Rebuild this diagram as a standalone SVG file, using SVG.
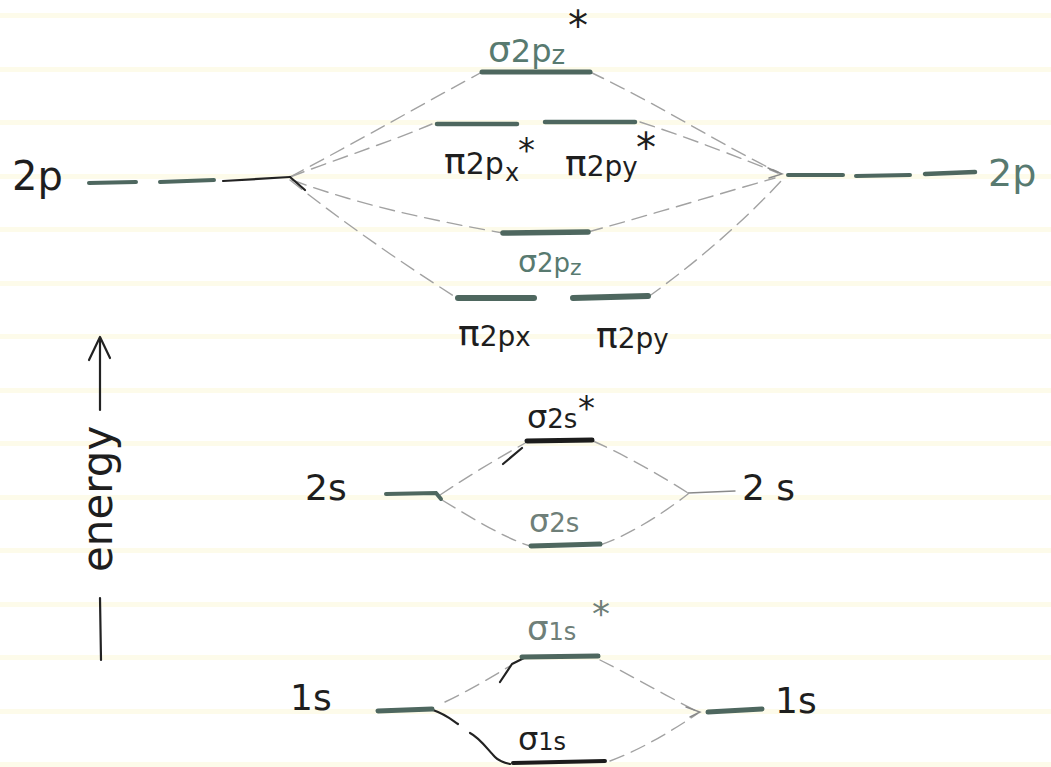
<svg xmlns="http://www.w3.org/2000/svg" width="1051" height="767" viewBox="0 0 1051 767">
  <defs>
    <style>
      .t { font-family: "DejaVu Sans", "Liberation Sans", sans-serif; }
      .ink { fill: #1e1e1e; }
      .grn { fill: #587a70; }
      .gry { fill: #6f7f79; }
      .bar { stroke: #4e675f; stroke-linecap: round; fill: none; }
      .barK { stroke: #1c1c1c; stroke-linecap: round; fill: none; }
      .dash { stroke: #a2a2a2; stroke-width: 1.4; fill: none; stroke-dasharray: 15 8; stroke-linecap: round; }
      .solidG { stroke: #8a8a8a; stroke-width: 1.4; fill: none; stroke-linecap: round; }
      .pen { stroke: #222; stroke-width: 2.2; fill: none; stroke-linecap: round; stroke-linejoin: round; }
      .rule { fill: #fdfbea; }
    </style>
  </defs>

  <rect width="1051" height="767" fill="#ffffff"/>

  <!-- ruled paper -->
  <g id="paper-lines">
    <rect class="rule" x="0" y="13" width="1051" height="5"/>
    <rect class="rule" x="0" y="67" width="1051" height="5"/>
    <rect class="rule" x="0" y="120" width="1051" height="5"/>
    <rect class="rule" x="0" y="174" width="1051" height="5"/>
    <rect class="rule" x="0" y="227" width="1051" height="5"/>
    <rect class="rule" x="0" y="281" width="1051" height="5"/>
    <rect class="rule" x="0" y="334" width="1051" height="5"/>
    <rect class="rule" x="0" y="388" width="1051" height="5"/>
    <rect class="rule" x="0" y="441" width="1051" height="5"/>
    <rect class="rule" x="0" y="495" width="1051" height="5"/>
    <rect class="rule" x="0" y="548" width="1051" height="5"/>
    <rect class="rule" x="0" y="602" width="1051" height="5"/>
    <rect class="rule" x="0" y="655" width="1051" height="5"/>
    <rect class="rule" x="0" y="709" width="1051" height="5"/>
    <rect class="rule" x="0" y="762" width="1051" height="5"/>
  </g>

  <!-- connectors between atomic and molecular levels -->
  <g id="connectors">
    <!-- left 2p fan -->
    <path class="dash" d="M290,177 C360,140 430,100 482,72"/>
    <path class="dash" d="M290,177 C340,158 395,140 432,124"/>
    <path class="dash" d="M292,180 C360,205 430,220 503,233"/>
    <path class="dash" d="M290,180 C340,220 400,262 457,298"/>
    <path class="pen" d="M290,177 L305,190" stroke-width="1.2"/>
    <!-- right 2p fan -->
    <path class="dash" d="M590,72 C660,105 730,150 778,172"/>
    <path class="dash" d="M640,122 C690,138 740,158 778,173"/>
    <path class="dash" d="M588,232 C650,215 715,195 775,178"/>
    <path class="dash" d="M648,297 C700,260 750,215 782,180"/>
    <path class="solidG" d="M768,168 L782,174 L769,178"/>
    <!-- 2s -->
    <path class="dash" d="M440,495 C470,475 495,460 527,442"/>
    <path class="pen" d="M503,464 L522,448" stroke-width="1.6"/>
    <path class="dash" d="M442,500 C475,520 505,538 530,546"/>
    <path class="dash" d="M593,441 C625,455 660,475 688,493"/>
    <path class="dash" d="M600,545 C630,535 665,512 688,494"/>
    <path class="solidG" d="M688,493 L735,491" stroke="#555"/>
    <!-- 1s -->
    <path class="dash" d="M445,702 C470,690 495,675 510,666"/>
    <path class="pen" d="M500,682 L512,664 L524,658" stroke="#45605a" stroke-width="2"/>
    <path class="dash" d="M600,660 C630,675 665,695 698,712"/>
    <path class="pen" d="M433,710 C445,714 452,720 458,724" stroke="#3e5a52" stroke-width="1.6"/>
    <path class="pen" d="M470,733 C480,738 488,750 495,757 C500,762 505,763 510,764" stroke-width="1.8"/>
    <path class="dash" d="M610,761 C640,750 670,732 697,714"/>
    <path class="solidG" d="M686,707 L700,712 L690,717" stroke="#555"/>
  </g>

  <!-- energy axis -->
  <g id="energy-axis">
    <path class="pen" d="M100,410 L100,338" stroke-width="2.6"/>
    <path class="pen" d="M89,360 L100,337 L110,358" stroke-width="2.6"/>
    <path class="pen" d="M100,598 L101,660" stroke-width="2.6" stroke="#333"/>
    <text class="t ink" font-size="42" transform="translate(112,572) rotate(-90)">energy</text>
  </g>

  <!-- atomic 2p, left -->
  <g id="ao-2p-left">
    <text class="t ink" x="12" y="190" font-size="40">2p</text>
    <path class="bar" stroke-width="4" d="M89,183 L136,182"/>
    <path class="bar" stroke-width="4" d="M160,182 L214,180"/>
    <path class="pen" stroke-width="2" d="M223,181 L290,177" stroke="#333"/>
  </g>

  <!-- atomic 2p, right -->
  <g id="ao-2p-right">
    <path class="bar" stroke-width="4" d="M788,175 L843,175"/>
    <path class="bar" stroke-width="4" d="M856,176 L910,175"/>
    <path class="bar" stroke-width="4.5" d="M925,174 L975,172"/>
    <text class="t grn" x="988" y="186" font-size="38">2p</text>
  </g>

  <!-- sigma* 2pz -->
  <g id="mo-sigma-star-2pz">
    <path class="bar" stroke-width="5" d="M482,72 L590,72"/>
    <text class="t grn" x="488" y="62" font-size="36">σ<tspan font-size="32">2p</tspan><tspan font-size="26" dy="2">z</tspan><tspan class="ink" x="568" y="40" font-size="40">*</tspan></text>
  </g>

  <!-- pi* 2px / 2py -->
  <g id="mo-pi-star-2px">
    <path class="bar" stroke-width="4.5" d="M437,124 L517,124"/>
    <text class="t ink" x="444" y="174" font-size="36">π<tspan font-size="30">2p</tspan><tspan x="505" y="181" font-size="24">x</tspan><tspan x="518" y="162" font-size="34">*</tspan></text>
  </g>
  <g id="mo-pi-star-2py">
    <path class="bar" stroke-width="4.5" d="M545,122 L635,122"/>
    <text class="t ink" x="565" y="176" font-size="36">π<tspan font-size="28">2p</tspan><tspan font-size="26">y</tspan><tspan x="636" y="162" font-size="40">*</tspan></text>
  </g>

  <!-- sigma 2pz -->
  <g id="mo-sigma-2pz">
    <path class="bar" stroke-width="5.5" d="M503,233 L588,232"/>
    <text class="t grn" x="518" y="272" font-size="30">σ<tspan font-size="26">2p</tspan><tspan font-size="22" dy="3">z</tspan></text>
  </g>

  <!-- pi 2px / 2py -->
  <g id="mo-pi-2px">
    <path class="bar" stroke-width="6" d="M458,298 L534,298"/>
    <text class="t ink" x="458" y="346" font-size="36">π<tspan font-size="28">2p</tspan><tspan font-size="26">x</tspan></text>
  </g>
  <g id="mo-pi-2py">
    <path class="bar" stroke-width="6" d="M573,298 L648,296"/>
    <text class="t ink" x="596" y="348" font-size="36">π<tspan font-size="28">2p</tspan><tspan font-size="26">y</tspan></text>
  </g>

  <!-- atomic 2s -->
  <g id="ao-2s-left">
    <text class="t ink" x="305" y="500" font-size="36">2s</text>
    <path class="bar" stroke-width="4" d="M386,494 L436,493 L441,499"/>
  </g>
  <g id="ao-2s-right">
    <text class="t ink" x="742" y="500" font-size="36">2 s</text>
  </g>

  <!-- sigma* 2s -->
  <g id="mo-sigma-star-2s">
    <path class="barK" stroke-width="5" d="M527,441 L592,440"/>
    <text class="t ink" x="527" y="428" font-size="32">σ<tspan font-size="26">2s</tspan><tspan x="578" y="420" font-size="34">*</tspan></text>
  </g>

  <!-- sigma 2s -->
  <g id="mo-sigma-2s">
    <path class="bar" stroke-width="5" d="M531,546 L600,544"/>
    <text class="t gry" x="529" y="532" font-size="32">σ<tspan font-size="26">2s</tspan></text>
  </g>

  <!-- atomic 1s -->
  <g id="ao-1s-left">
    <text class="t ink" x="290" y="710" font-size="36">1s</text>
    <path class="bar" stroke-width="5" d="M378,711 L432,709"/>
  </g>
  <g id="ao-1s-right">
    <path class="bar" stroke-width="5" d="M708,712 L762,709"/>
    <text class="t ink" x="775" y="713" font-size="36">1s</text>
  </g>

  <!-- sigma* 1s -->
  <g id="mo-sigma-star-1s">
    <path class="bar" stroke-width="5" d="M522,657 L598,656" stroke="#2f4540"/>
    <text class="t gry" x="527" y="640" font-size="34">σ<tspan font-size="24">1s</tspan><tspan x="592" y="626" font-size="36">*</tspan></text>
  </g>

  <!-- sigma 1s -->
  <g id="mo-sigma-1s">
    <path class="barK" stroke-width="4" d="M513,763 L605,761"/>
    <text class="t ink" x="518" y="750" font-size="32">σ<tspan font-size="24">1s</tspan></text>
  </g>
</svg>
